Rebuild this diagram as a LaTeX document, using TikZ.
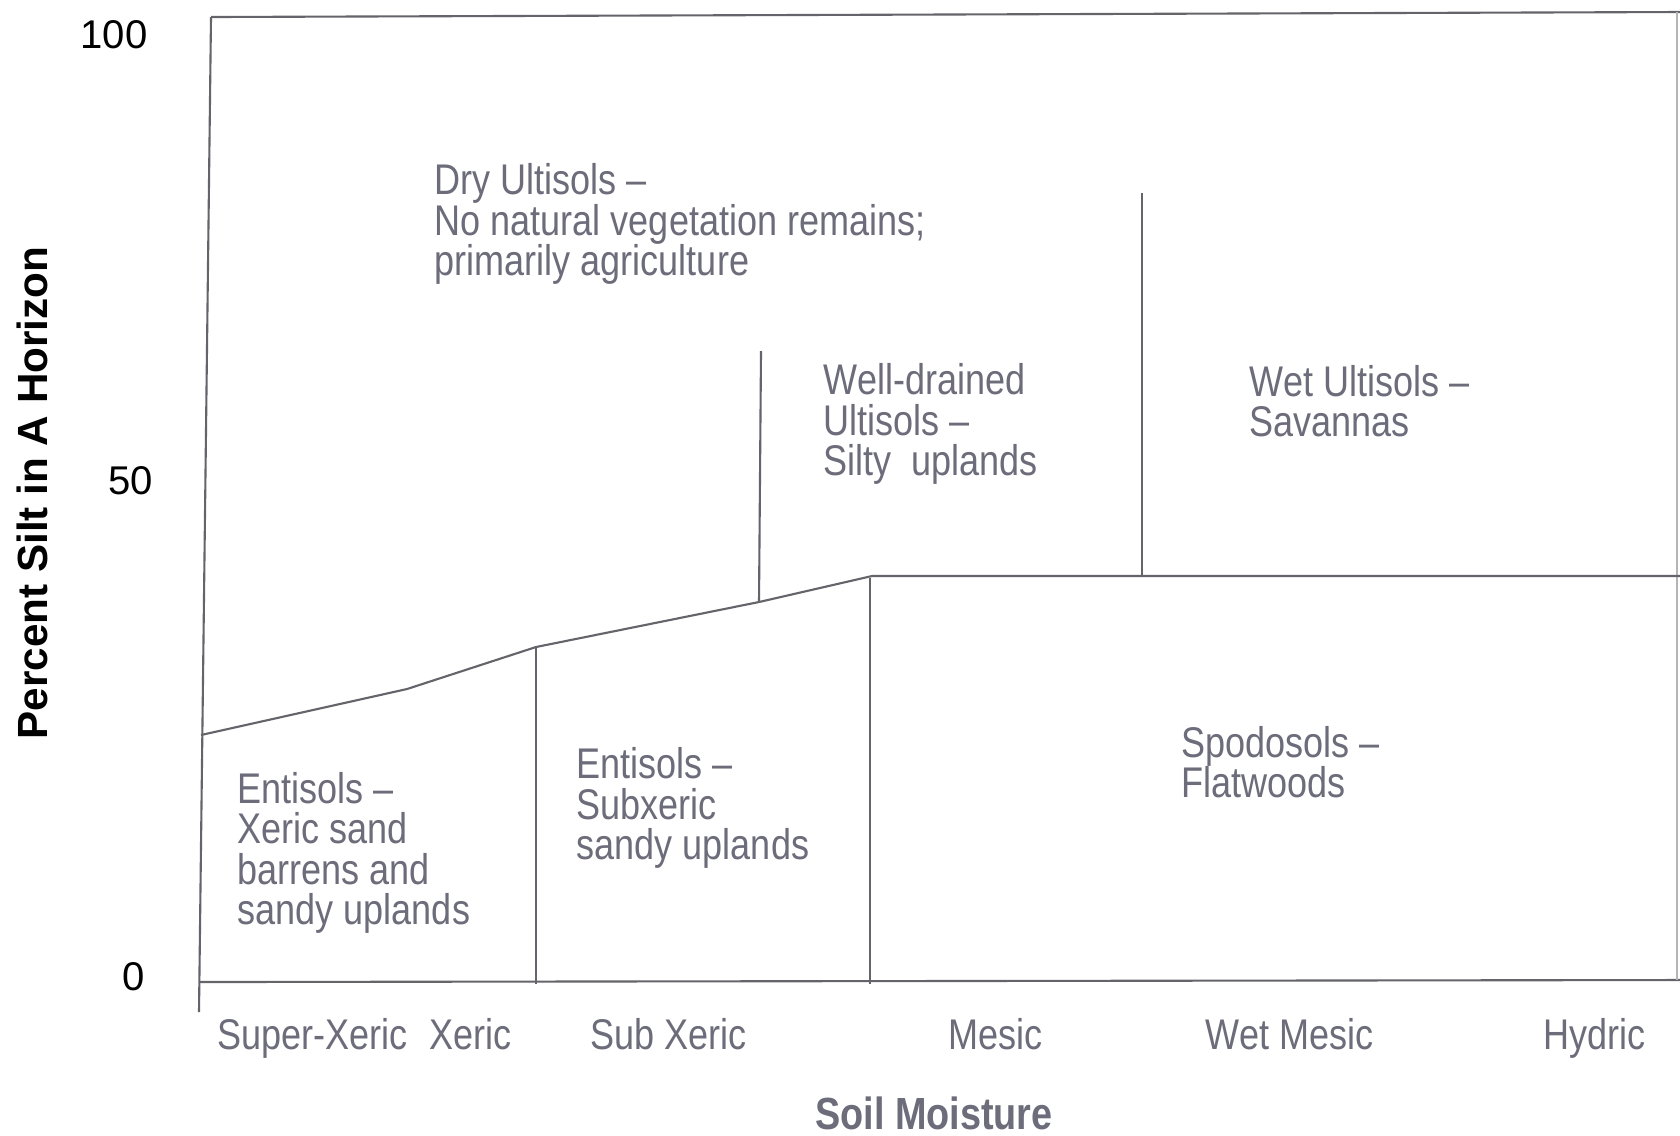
\documentclass[tikz,border=0pt]{standalone}
\usepackage{fontspec}
\setmainfont{Liberation Sans}
\newfontfamily\labfont{Liberation Sans}[FakeStretch=0.84]
\definecolor{txtgray}{RGB}{108,108,122}
\definecolor{linegray}{RGB}{100,100,106}
\definecolor{faintgray}{RGB}{180,180,185}
\tikzset{
  region/.style={font={\labfont\fontsize{12.2}{11.5}\selectfont\lineskiplimit=-20pt}, text=txtgray, align=left, anchor=west, inner sep=0pt},
  moist/.style={font={\labfont\fontsize{12.2}{14}\selectfont}, text=txtgray, anchor=base west, inner sep=0pt},
  num/.style={font={\fontsize{11.4}{13}\selectfont}, text=black, inner sep=0pt},
  border/.style={draw=linegray, line width=0.6pt},
}
\begin{document}
\begin{tikzpicture}[x=0.01cm,y=-0.01cm]
\useasboundingbox (0,0) rectangle (1680,1135);
\fill[white] (0,0) rectangle (1680,1135);
% frame
\coordinate (tl) at (211,17);
\coordinate (tr) at (1680,12);
\coordinate (bl) at (199,982);
\coordinate (bt) at (199,1012);
\coordinate (br) at (1680,980);
\draw[border] (tl) -- (tr);
\draw[border] (tl) -- (bt);
\draw[border] (bl) -- (br);
\draw[draw=faintgray, line width=0.6pt] (1677,12) -- (1677,980);
% sloped boundary
\coordinate (s0) at (201,735);
\coordinate (s1) at (407,689);
\coordinate (s2) at (536,647);
\coordinate (s3) at (759,602);
\coordinate (s4) at (872,576);
\coordinate (s5) at (1680,576);
\draw[border] (s0) -- (s1) -- (s2) -- (s3) -- (s4) -- (s5);
% verticals
\coordinate (v1b) at (536,984);
\draw[border] (s2) -- (v1b);
\coordinate (v2t) at (761,351);
\draw[border] (v2t) -- (s3);
\coordinate (v3t) at (1142,193);
\coordinate (v3b) at (1142,576);
\draw[border] (v3t) -- (v3b);
\coordinate (v4t) at (870,578);
\coordinate (v4b) at (870,984);
\draw[border] (v4t) -- (v4b);
% axis numbers
\node[num] (n100) at (114,35) {100};
\node[num] (n50) at (131,481) {50};
\node[num] (n0) at (134,977) {0};
% axis titles
\node[rotate=90, font={\bfseries\fontsize{12}{14}\selectfont}, inner sep=0pt] (ytitle) at (32,493) {Percent Silt in A Horizon};
\node[font={\labfont\bfseries\fontsize{12.8}{15}\selectfont}, text=txtgray, inner sep=0pt] (xtitle) at (934,1113) {Soil Moisture};
% region labels
\node[region] (dry) at (434,224) {Dry Ultisols –\\No natural vegetation remains;\\primarily agriculture};
\node[region] (well) at (823,424) {Well-drained\\Ultisols –\\Silty\ \ uplands};
\node[region] (wet) at (1249,401) {Wet Ultisols –\\Savannas};
\node[region] (xeric) at (237,853) {Entisols –\\Xeric sand\\barrens and\\sandy uplands};
\node[region] (subx) at (576,808) {Entisols –\\Subxeric\\sandy uplands};
\node[region] (spodo) at (1181,762) {Spodosols –\\Flatwoods};
% moisture labels
\node[moist] (m1) at (217,1049) {Super-Xeric};
\node[moist] (m2) at (429,1049) {Xeric};
\node[moist] (m3) at (590,1049) {Sub Xeric};
\node[moist] (m4) at (948,1049) {Mesic};
\node[moist] (m5) at (1205,1049) {Wet Mesic};
\node[moist] (m6) at (1543,1049) {Hydric};
\end{tikzpicture}
\end{document}
